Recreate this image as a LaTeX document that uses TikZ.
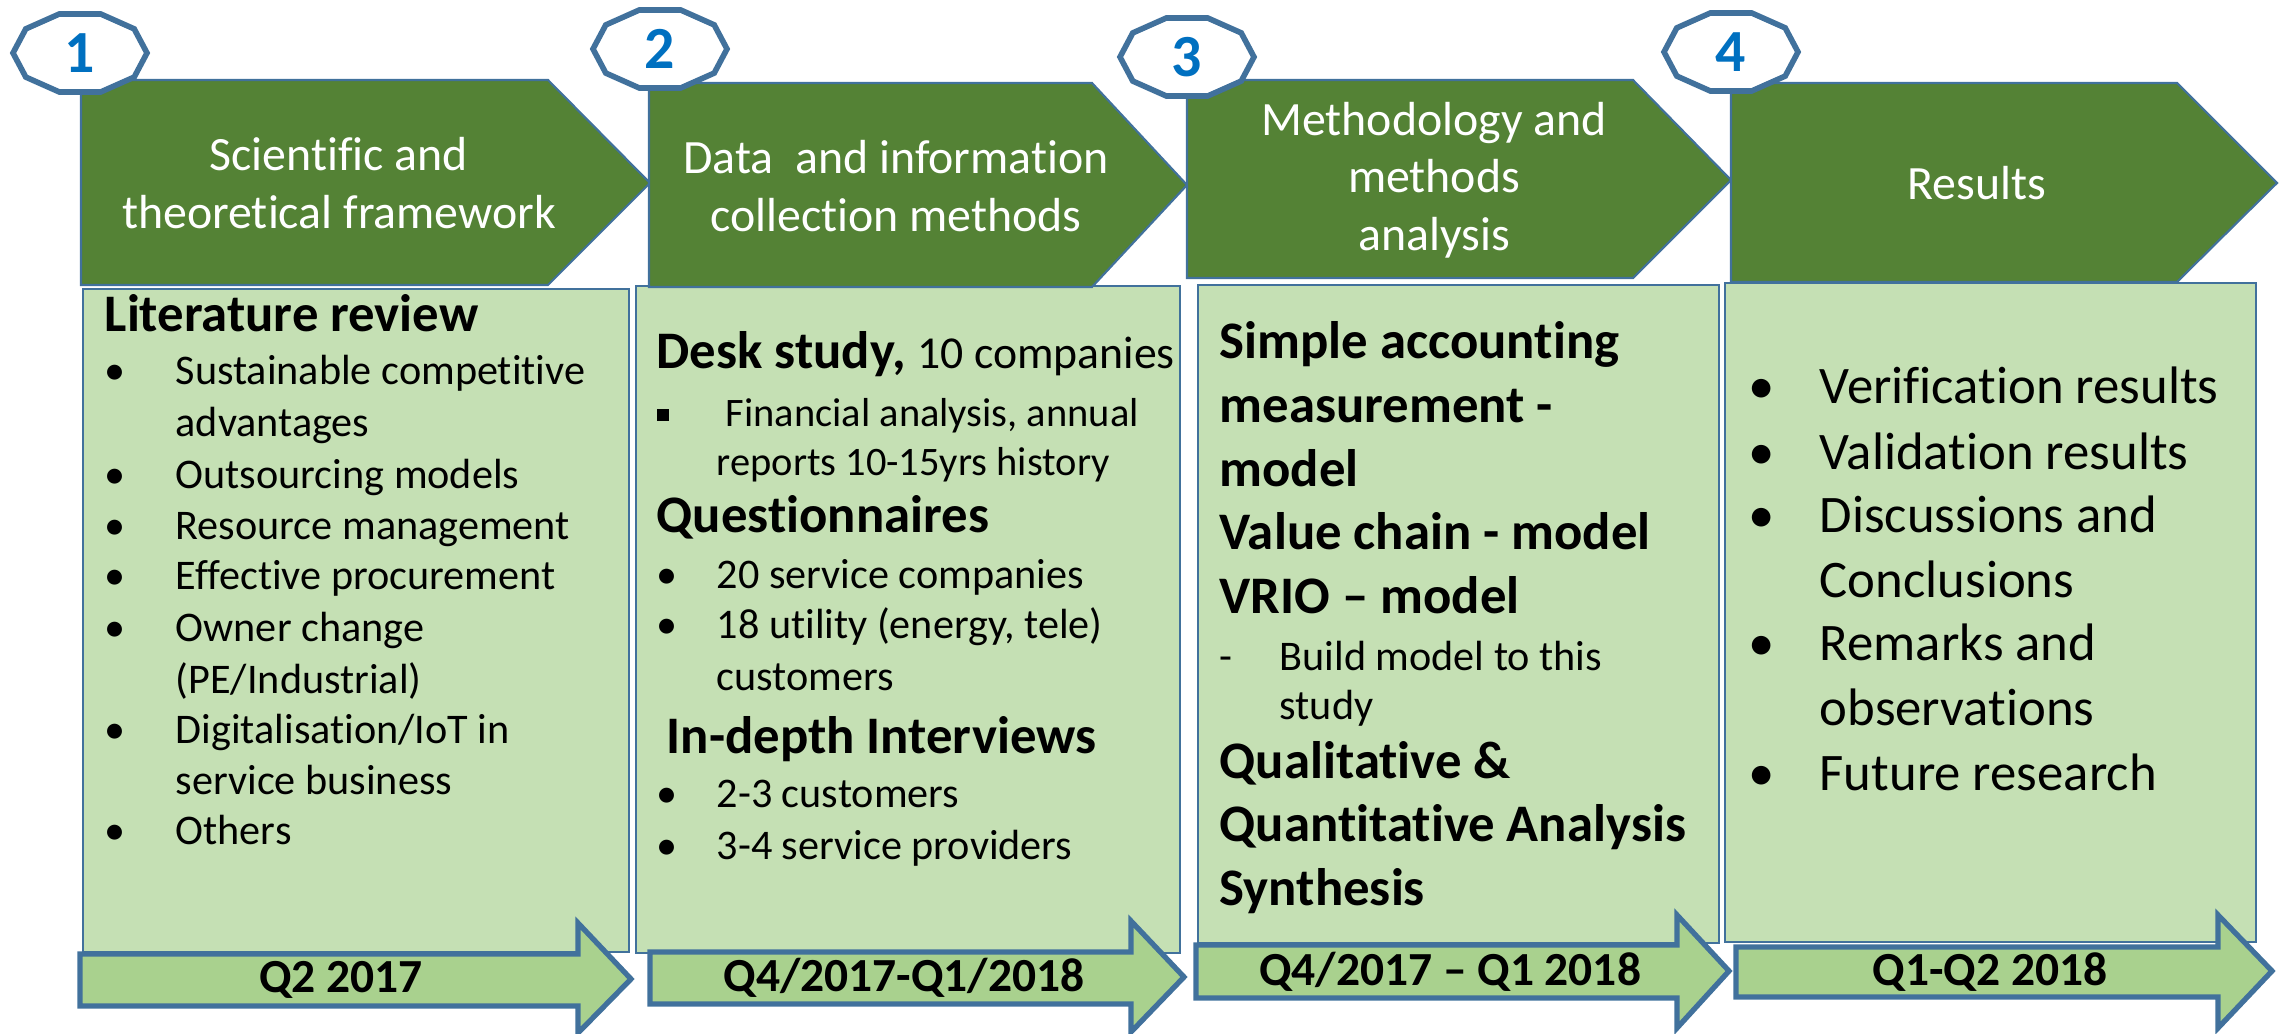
\documentclass[tikz,border=0pt]{standalone}
\usepackage{fontspec}
\setmainfont{Carlito}[Ligatures=NoCommon]
\usepackage{tikz}
\usetikzlibrary{positioning}
\definecolor{lineblue}{HTML}{41719C}
\definecolor{headgreen}{HTML}{548235}
\definecolor{panelgreen}{HTML}{C5E0B4}
\definecolor{bargreen}{HTML}{A9D18E}
\definecolor{numblue}{HTML}{0070C0}
% lines stacked on a common baseline, and a bulleted item with a hanging indent
\newcommand{\textrows}[1]{\begin{tabular}[t]{@{}l@{}}#1\end{tabular}}
\newcommand{\bitem}[3][\textbullet]{\makebox[#2][l]{#1}\textrows{#3}}
\newcommand{\sqbullet}{\rule[1.8pt]{3.4pt}{3.4pt}}

\begin{document}
\begin{tikzpicture}[x=0.01cm, y=-0.01cm,
    headbox/.style={draw=lineblue, line width=0.6pt, fill=headgreen},
    panel/.style={draw=lineblue, line width=0.6pt, fill=panelgreen},
    period/.style={draw=lineblue, line width=1.5pt, fill=bargreen},
    tagline/.style={draw=lineblue, line width=1.6pt, fill=white},
    num/.style={text=numblue, font=\fontsize{17}{20}\selectfont\bfseries, inner sep=0},
    htext/.style={text=white, align=center, inner sep=0, font=\fontsize{13.6}{16.3}\selectfont},
    topic/.style={anchor=base west, inner sep=0, font=\fontsize{15}{18.1}\selectfont\bfseries},
    entry/.style={anchor=base west, inner sep=0, font=\fontsize{12}{14.6}\selectfont},
    bigentry/.style={entry, font=\fontsize{15}{18.2}\selectfont},
    qlabel/.style={inner sep=0, font=\fontsize{13.5}{16}\selectfont\bfseries}
]
\useasboundingbox (0,0) rectangle (2285,1034);

% content panels
\draw[panel] (83,289) rectangle (629,952);
\draw[panel] (636,286) rectangle (1180,953);
\draw[panel] (1198,285) rectangle (1719,943);
\draw[panel] (1725,283) rectangle (2256,942);

% phase headers
\draw[headbox] (81,80) -- (548,80) -- (650,183) -- (548,285) -- (81,285) -- cycle;
\draw[headbox] (649,83) -- (1092,83) -- (1187,185) -- (1092,287) -- (649,287) -- cycle;
\draw[headbox] (1187,80) -- (1633,80) -- (1731,180) -- (1633,278) -- (1187,278) -- cycle;
\draw[headbox] (1731,83) -- (2177,83) -- (2277,183) -- (2177,282) -- (1731,282) -- cycle;
\node[htext] (h1) at (339,183) {Scientific and\\theoretical framework};
\node[htext] (h2) at (896,186) {Data\ \ and information\\collection methods};
\node[htext] (h3) at (1434,180) {Methodology and\\methods\\analysis};
\node[htext] (h4) at (1977,183) {Results};

% step numbers
\coordinate (t1) at (80,53);
\coordinate (t2) at (660,49);
\coordinate (t3) at (1187,57);
\coordinate (t4) at (1731,52);
\foreach \t in {t1,t2,t3,t4}
  \draw[tagline, shift={(\t)}] (0:67 and 41) \foreach \a in {36,72,...,324} {-- (\a:67 and 41)} -- cycle;
\node[num] (n1) at (t1) {1};
\node[num] (n2) at (t2) {2};
\node[num] (n3) at (t3) {3};
\node[num] (n4) at (t4) {4};

% 1: literature
\node[topic] (lit) at (104,332) {Literature review};
\node[entry] (l1) at (104,385) {\bitem{0.71cm}{Sustainable competitive\\advantages}};
\node[entry] (l2) at (104,489) {\bitem{0.71cm}{Outsourcing models}};
\node[entry] (l3) at (104,540) {\bitem{0.71cm}{Resource management}};
\node[entry] (l4) at (104,590) {\bitem{0.71cm}{Effective procurement}};
\node[entry] (l5) at (104,642) {\bitem{0.71cm}{Owner change\\(PE/Industrial)}};
\node[entry] (l6) at (104,743) {\bitem{0.71cm}{Digitalisation/IoT in\\service business}};
\node[entry] (l7) at (104,844) {\bitem{0.71cm}{Others}};

% 2: data collection
\node[topic] (desk) at (656,369) {Desk study, {\normalfont\fontsize{13}{16}\selectfont 10 companies}};
\node[entry, font=\fontsize{11.5}{13.7}\selectfont] (d1) at (656,427)
  {\bitem[\sqbullet]{0.60cm}{~Financial analysis, annual\\reports 10-15yrs history}};
\node[topic] (quest) at (656,533) {Questionnaires};
\node[entry] (q1) at (656,589) {\bitem{0.60cm}{20 service companies}};
\node[entry] (q2) at (656,639) {\bitem{0.60cm}{18 utility (energy, tele)\\customers}};
\node[topic] (intv) at (666,753) {In-depth Interviews};
\node[entry] (i1) at (656,807) {\bitem{0.60cm}{2-3 customers}};
\node[entry] (i2) at (656,859) {\bitem{0.60cm}{3-4 service providers}};

% 3: methods
\node[topic] (mod) at (1219,359) {\textrows{Simple accounting\\measurement -\\model\\Value chain - model\\VRIO -- model}};
\node[entry, font=\fontsize{12}{14}\selectfont] (m1) at (1219,670) {\bitem[-]{0.60cm}{Build model to this\\study}};
\node[topic] (ana) at (1219,778) {\textrows{Qualitative \&\\Quantitative Analysis\\Synthesis}};

% 4: results
\node[bigentry] (r1) at (1748,404) {\bitem{0.71cm}{Verification results}};
\node[bigentry] (r2) at (1748,470) {\bitem{0.71cm}{Validation results}};
\node[bigentry] (r3) at (1748,533) {\bitem{0.71cm}{Discussions and\\Conclusions}};
\node[bigentry] (r4) at (1748,661) {\bitem{0.71cm}{Remarks and\\observations}};
\node[bigentry] (r5) at (1748,790) {\bitem{0.71cm}{Future research}};

% time line
\draw[period] (80,954) -- (578,954) -- (578,923) -- (631,979) -- (578,1033) -- (578,1006) -- (80,1006) -- cycle;
\draw[period] (650,952) -- (1131,952) -- (1131,921) -- (1184,977) -- (1131,1032) -- (1131,1004) -- (650,1004) -- cycle;
\draw[period] (1196,945) -- (1677,945) -- (1677,915) -- (1729,971) -- (1677,1028) -- (1677,998) -- (1196,998) -- cycle;
\draw[period] (1736,947) -- (2218,947) -- (2218,915) -- (2272,971) -- (2218,1028) -- (2218,997) -- (1736,997) -- cycle;
\node[qlabel] (p1) at (341,980) {Q2 2017};
\node[qlabel] (p2) at (904,978) {Q4/2017-Q1/2018};
\node[qlabel] (p3) at (1450,972) {Q4/2017 -- Q1 2018};
\node[qlabel] (p4) at (1990,972) {Q1-Q2 2018};

\end{tikzpicture}
\end{document}
